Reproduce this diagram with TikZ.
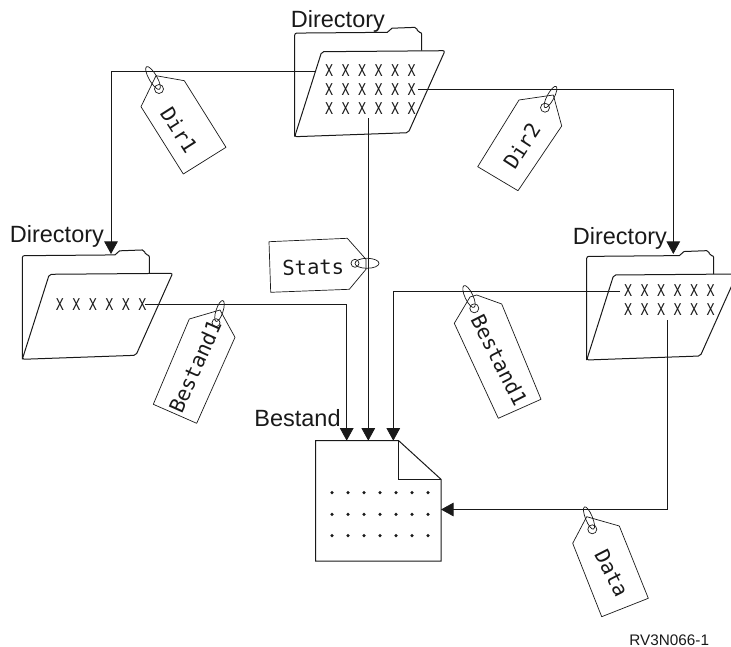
\documentclass[tikz,border=0pt]{standalone}
\usepackage{fontspec}
\setmainfont{Liberation Sans}
\newfontfamily\tagfont{DejaVu Sans Mono}
\newfontfamily\crossfont[FakeStretch=0.75]{Liberation Mono}
\usetikzlibrary{arrows.meta}

\tikzset{
  pics/folder/.style={code={
    \draw[rounded corners=2pt,line width=1pt] (0,0) -- (0,-103.6) -- (94.6,-104.4) -- (95.3,-108.4)
      -- (122,-109.4) -- (123,-104.4) -- (127,-104.4) -- (127,-86);
    \draw[rounded corners=2pt,line width=1pt] (0,0) -- (27,-85) -- (150.3,-86) -- (113.6,-4) -- cycle;
  }}
}

\begin{document}
\begin{tikzpicture}[
  x=1pt, y=-1pt, >={Triangle[length=12.5pt,width=13.5pt]},
  line width=0.8pt, color=black!90,
  lbl/.style={inner sep=0pt,anchor=base west,font=\fontsize{23.5}{26}\selectfont},
  crosses/.style={inner sep=0pt,align=center,font=\fontsize{18}{18.7}\crossfont\spaceskip 8.4pt\relax},
  tagtext/.style={inner sep=0pt,font=\fontsize{20.5}{23}\tagfont},
  tagline/.style={line width=0.7pt,line join=round},
  dots/.style={inner sep=0pt,minimum size=3.5pt,circle,fill=black!90}
]
\useasboundingbox (0,0) rectangle (731,647);
\clip (0,0) rectangle (731,647);

% Folders
\pic at (294.7,136.7) {folder};
\pic at (22.3,359.3) {folder};
\pic at (586.7,360) {folder};
\node[crosses] (xtop) at (370.5,89.5) {X X X X X X\\X X X X X X\\X X X X X X};
\node[crosses] (xleft) at (101.3,304.3) {X X X X X X};
\node[crosses] (xright) at (669.5,300.2) {X X X X X X\\X X X X X X};
\node[lbl] (dirtop) at (290.5,27.3) {Directory};
\node[lbl] (dirleft) at (9.5,243) {Directory};
\node[lbl] (dirright) at (572.5,245) {Directory};

% File
\draw[line width=1pt] (315.7,440.7) -- (398.7,440.7) -- (441,479.3) -- (441,561) -- (315.7,561) -- cycle;
\draw[line width=1pt] (398.7,440.7) -- (398.7,479.3) -- (441,479.3);
\foreach \py in {492.7,514.3,535.7}
  \foreach \px in {332,348,364,380,396,412,428}
    \node[dots] at (\px,\py) {};
\node[lbl] (bestand) at (254,426) {Bestand};
\node[inner sep=0pt,anchor=base east,font=\fontsize{15.3}{17}\selectfont] (rvcode) at (709.5,645) {RV3N066-1};

% Connector ends
\coordinate (topw) at (316,71.7);
\coordinate (topm) at (368.3,118.3);
\coordinate (tope) at (418.3,89.3);
\coordinate (leftin) at (111,254);
\coordinate (rightin) at (673.3,254);
\coordinate (lefte) at (145,304.3);
\coordinate (rightw) at (620,291);
\coordinate (rightm) at (667.7,320);
\coordinate (docl) at (346.7,440.7);
\coordinate (docm) at (368.3,440.7);
\coordinate (docr) at (393.3,440.7);
\coordinate (dock) at (441,509.5);

% Connections
\draw[->] (topw) -| (leftin);
\draw[->] (tope) -| (rightin);
\draw[->] (topm) -- (docm);
\draw[->] (lefte) -| (docl);
\draw[->] (rightw) -| (docr);
\draw[->] (rightm) |- (dock);

% Tags
\draw[tagline] (141,106.7) -- (156,75.7) -- (184.3,80.7) -- (226,147.3) -- (183.3,174) -- cycle;
\draw[tagline] (159,89) circle[radius=4.5pt];
\draw[tagline] (153,78) ellipse[x radius=13pt,y radius=4pt,rotate=-60];
\node[tagtext,rotate=-57.5] (dirone) at (179.3,130) {Dir1};

\draw[tagline] (477.7,166.7) -- (519,100) -- (553.3,95) -- (561.7,126) -- (518,190.7) -- cycle;
\draw[tagline] (545,107.7) circle[radius=4.5pt];
\draw[tagline] (550.5,97) ellipse[x radius=12pt,y radius=3.5pt,rotate=62];
\node[tagtext,rotate=57] (dirtwo) at (521.7,146) {Dir2};

\draw[tagline] (269,241.7) -- (347.3,238.3) -- (366,259.3) -- (366,269.3) -- (349.3,289.3) -- (270.7,292.3) -- cycle;
\draw[tagline] (355,263.3) circle[radius=4pt];
\draw[tagline] (367,263.3) ellipse[x radius=12pt,y radius=5pt];
\node[tagtext,rotate=1.5] (stats) at (313.3,267.3) {Stats};

\draw[tagline] (153.3,404.3) -- (189.3,319) -- (220,310) -- (235,337.3) -- (196.7,423.3) -- cycle;
\draw[tagline] (216,322.7) circle[radius=4pt];
\draw[tagline] (219.5,311) ellipse[x radius=11pt,y radius=3.5pt,rotate=72];
\node[tagtext,rotate=66] (bestone) at (195,366.7) {Bestand1};

\draw[tagline] (454.3,323.3) -- (470,297) -- (476.7,295) -- (501.7,304) -- (541,399.3) -- (498.3,418.3) -- cycle;
\draw[tagline] (474.3,308.3) circle[radius=4.5pt];
\draw[tagline] (469,296.5) ellipse[x radius=12pt,y radius=4pt,rotate=-65];
\node[tagtext,rotate=-63] (besttwo) at (499.3,360) {Bestand1};

\draw[tagline] (572.7,543.3) -- (586.7,516.7) -- (619.3,526) -- (648.3,598.3) -- (601.7,616.7) -- cycle;
\draw[tagline] (592.3,529.3) circle[radius=4.5pt];
\draw[tagline] (589,518) ellipse[x radius=12pt,y radius=3.5pt,rotate=-68];
\node[tagtext,rotate=-63] (data) at (611.7,572.7) {Data};
\end{tikzpicture}
\end{document}
